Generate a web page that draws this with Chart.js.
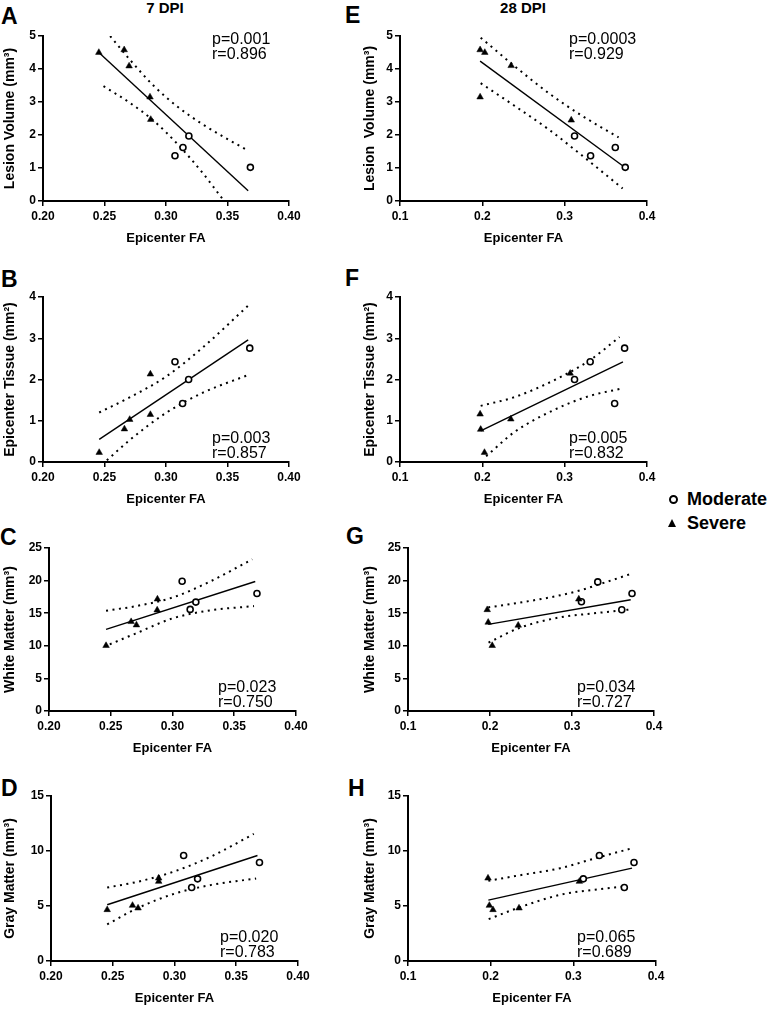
<!DOCTYPE html>
<html lang="en">
<head>
<meta charset="UTF-8">
<title>Epicenter FA correlations</title>
<script src="https://cdn.jsdelivr.net/npm/chart.js"></script>
<style>
    body { margin: 0; background: #fff; font-family: "Liberation Sans", Arial, sans-serif; color: #000; }
    #page { position: relative; width: 771px; height: 1024px; overflow: hidden; }
    #page canvas { position: absolute; }
    .letter { position: absolute; font-size: 23px; font-weight: bold; line-height: 23px; }
    .coltitle { position: absolute; top: 0; width: 100px; text-align: center; font-size: 15px; font-weight: bold; line-height: 15px; }
    .legtext { position: absolute; left: 687px; font-size: 18px; font-weight: bold; line-height: 18px; }
    .legcircle { position: absolute; left: 669px; top: 495px; width: 5px; height: 5px; border: 2px solid #000; border-radius: 50%; }
    .legtri { position: absolute; left: 668px; top: 519px; width: 0; height: 0;
              border-left: 4.5px solid transparent; border-right: 4.5px solid transparent; border-bottom: 8px solid #000; }
</style>
</head>
<body>
<div id="page">
    <div class="coltitle" style="left:115px">7 DPI</div>
    <div class="coltitle" style="left:473px">28 DPI</div>

    <div class="letter" style="left:1px; top:5px">A</div>
    <div class="letter" style="left:1px; top:268px">B</div>
    <div class="letter" style="left:0px; top:526px">C</div>
    <div class="letter" style="left:1px; top:777px">D</div>
    <div class="letter" style="left:345px; top:4px">E</div>
    <div class="letter" style="left:345px; top:267px">F</div>
    <div class="letter" style="left:346px; top:525px">G</div>
    <div class="letter" style="left:348px; top:777px">H</div>

    <div class="legcircle"></div>
    <div class="legtext" style="top:490px">Moderate</div>
    <div class="legtri"></div>
    <div class="legtext" style="top:514px">Severe</div>
</div>

<script>
    // ---- data: [FA, value] ----
    // 7 DPI column
    const aSevere   = [[0.2454, 4.50], [0.2660, 4.58], [0.2700, 4.09], [0.2870, 3.15], [0.2876, 2.47]];
    const aModerate = [[0.3073, 1.37], [0.3138, 1.62], [0.3186, 1.97], [0.3686, 1.02]];
    const aFit      = [[0.2454, 4.50], [0.3668, 0.31]];
    const aUpper    = [[0.2546, 5.00], [0.27, 4.31], [0.29, 3.49], [0.31, 2.84], [0.33, 2.32], [0.3654, 1.55]];
    const aLower    = [[0.2492, 3.48], [0.27, 2.99], [0.29, 2.43], [0.31, 1.70], [0.33, 0.84], [0.346, 0.06]];

    const bSevere   = [[0.2457, 0.23], [0.2662, 0.80], [0.2705, 1.03], [0.2873, 2.13], [0.2873, 1.15]];
    const bModerate = [[0.3073, 2.43], [0.3135, 1.42], [0.3184, 2.00], [0.3681, 2.76]];
    const bFit      = [[0.2457, 0.55], [0.3668, 2.96]];
    const bUpper    = [[0.2457, 1.20], [0.27, 1.56], [0.30, 2.07], [0.33, 2.78], [0.3668, 3.79]];
    const bLower    = [[0.2519, 0.04], [0.27, 0.52], [0.30, 1.19], [0.33, 1.68], [0.3668, 2.11]];

    const cSevere   = [[0.2462, 10.03], [0.2665, 13.70], [0.2708, 13.19], [0.2878, 17.16], [0.2876, 15.48]];
    const cModerate = [[0.3078, 19.90], [0.3143, 15.58], [0.3189, 16.70], [0.3684, 18.02]];
    const cFit      = [[0.2462, 12.53], [0.3670, 19.86]];
    const cUpper    = [[0.2462, 15.38], [0.27, 16.07], [0.30, 17.40], [0.33, 19.82], [0.3646, 23.27]];
    const cLower    = [[0.2492, 10.23], [0.27, 11.87], [0.30, 14.20], [0.33, 15.42], [0.366, 16.09]];

    const dSevere   = [[0.2455, 4.66], [0.2660, 5.05], [0.2705, 4.81], [0.2872, 7.53], [0.2872, 7.23]];
    const dModerate = [[0.3074, 9.59], [0.3139, 6.68], [0.3187, 7.47], [0.3688, 8.95]];
    const dFit      = [[0.2455, 5.11], [0.3672, 9.59]];
    const dUpper    = [[0.2455, 6.68], [0.27, 7.20], [0.30, 8.15], [0.33, 9.52], [0.3642, 11.55]];
    const dLower    = [[0.2455, 3.33], [0.27, 4.80], [0.30, 6.12], [0.33, 6.92], [0.3661, 7.50]];

    // 28 DPI column
    const eSevere   = [[0.1973, 4.58], [0.1973, 3.15], [0.2030, 4.50], [0.2350, 4.10], [0.3080, 2.45]];
    const eModerate = [[0.3120, 1.97], [0.3315, 1.37], [0.3615, 1.62], [0.3736, 1.02]];
    const eFit      = [[0.1973, 4.24], [0.3704, 1.07]];
    const eUpper    = [[0.198, 4.95], [0.24, 4.07], [0.28, 3.28], [0.32, 2.60], [0.3655, 1.93]];
    const eLower    = [[0.198, 3.57], [0.24, 2.87], [0.28, 2.18], [0.32, 1.40], [0.3704, 0.38]];

    const fSevere   = [[0.1973, 1.16], [0.1980, 0.79], [0.2026, 0.23], [0.2346, 1.04], [0.3067, 2.15]];
    const fModerate = [[0.3120, 2.00], [0.3310, 2.43], [0.3607, 1.42], [0.3728, 2.76]];
    const fFit      = [[0.1980, 0.755], [0.3708, 2.43]];
    const fUpper    = [[0.198, 1.36], [0.24, 1.58], [0.29, 2.01], [0.33, 2.46], [0.3667, 3.03]];
    const fLower    = [[0.2046, 0.14], [0.24, 0.74], [0.29, 1.29], [0.33, 1.60], [0.3667, 1.77]];

    const gSevere   = [[0.1966, 15.53], [0.1978, 13.60], [0.2027, 10.03], [0.2344, 13.14], [0.3083, 17.16]];
    const gModerate = [[0.3115, 16.75], [0.3314, 19.80], [0.3607, 15.53], [0.3732, 18.02]];
    const gFit      = [[0.1978, 13.29], [0.3716, 17.06]];
    const gUpper    = [[0.1978, 15.89], [0.235, 16.6], [0.28, 17.6], [0.31, 18.5], [0.33, 19.3], [0.3708, 20.98]];
    const gLower    = [[0.1982, 10.49], [0.235, 12.7], [0.285, 14.36], [0.326, 14.97], [0.3716, 15.58]];

    const hSevere   = [[0.1968, 7.53], [0.1984, 5.05], [0.2028, 4.66], [0.2343, 4.81], [0.3073, 7.23]];
    const hModerate = [[0.3121, 7.47], [0.3315, 9.59], [0.3617, 6.68], [0.3734, 8.95]];
    const hFit      = [[0.1972, 5.53], [0.3710, 8.44]];
    const hUpper    = [[0.1972, 7.29], [0.2359, 7.80], [0.2843, 8.44], [0.3246, 9.30], [0.371, 10.25]];
    const hLower    = [[0.1976, 3.81], [0.234, 4.85], [0.2843, 6.02], [0.3246, 6.47], [0.3609, 6.77]];

    // axis ranges and labels
    const xRange7  = [0.20, 0.40, 0.05, 2];
    const xRange28 = [0.1, 0.4, 0.1, 1];
    const yLesion = [0, 5, 1];
    const yTissue = [0, 4, 1];
    const yWhite  = [0, 25, 5];
    const yGray   = [0, 15, 5];
    const xTitle = 'Epicenter FA';
    const yTitles = ['Lesion Volume (mm³)', 'Epicenter Tissue (mm²)', 'White Matter (mm³)', 'Gray Matter (mm³)'];
    const yTitleE = 'Lesion  Volume (mm³)';
    const stats = {
        A: ['p=0.001', 'r=0.896'], B: ['p=0.003', 'r=0.857'], C: ['p=0.023', 'r=0.750'], D: ['p=0.020', 'r=0.783'],
        E: ['p=0.0003', 'r=0.929'], F: ['p=0.005', 'r=0.832'], G: ['p=0.034', 'r=0.727'], H: ['p=0.065', 'r=0.689']
    };

    Chart.defaults.font.family = '"Liberation Sans", Arial, sans-serif';
    Chart.defaults.color = '#000';

    const toPts = arr => arr.map(p => ({ x: p[0], y: p[1] }));

    // p / r text inside the plot
    const statPlugin = {
        id: 'stats',
        afterDraw(chart, args, opts) {
            const { ctx, chartArea } = chart;
            ctx.save();
            ctx.font = '16px "Liberation Sans", Arial, sans-serif';
            ctx.fillStyle = '#000';
            ctx.textBaseline = 'middle';
            const x = chartArea.left + 169;
            const y0 = opts.top ? chartArea.top + 4 : chartArea.bottom - 23;
            opts.lines.forEach((t, i) => ctx.fillText(t, x, y0 + i * 14.5));
            ctx.restore();
        }
    };

    const page = document.getElementById('page');

    function makePanel(p) {
        const top = p.area.t - 16;
        const cv = document.createElement('canvas');
        cv.width = p.area.r + 30 - p.colX;
        cv.height = p.area.b + 48 - top;
        cv.style.left = p.colX + 'px';
        cv.style.top = top + 'px';
        page.appendChild(cv);

        const lineSet = (data, dotted) => ({
            data: toPts(data), showLine: true, pointRadius: 0, fill: false,
            borderColor: '#000', borderWidth: dotted ? 2 : 1.4,
            borderDash: dotted ? [2, 4.5] : [], cubicInterpolationMode: dotted ? 'monotone' : 'default',
            order: 2
        });

        new Chart(cv, {
            type: 'scatter',
            data: {
                datasets: [
                    { data: toPts(p.severe), pointStyle: 'triangle', pointRadius: 3.8, backgroundColor: '#000', borderColor: '#000', borderWidth: 0.5, order: 1 },
                    { data: toPts(p.moderate), pointStyle: 'circle', pointRadius: 3, backgroundColor: '#fff', borderColor: '#000', borderWidth: 1.6, order: 1 },
                    lineSet(p.fit, false),
                    lineSet(p.upper, true),
                    lineSet(p.lower, true)
                ]
            },
            options: {
                responsive: false,
                animation: false,
                layout: { padding: { top: 16, right: 30, left: 0, bottom: 0 } },
                plugins: {
                    legend: { display: false },
                    tooltip: { enabled: false },
                    stats: { lines: p.stats, top: p.statsTop }
                },
                scales: {
                    x: {
                        type: 'linear', min: p.x[0], max: p.x[1],
                        ticks: { stepSize: p.x[2], callback: v => v.toFixed(p.x[3]), font: { size: 12, weight: 'bold' }, color: '#000', padding: 3, maxRotation: 0, autoSkip: false },
                        grid: { drawOnChartArea: false, drawTicks: true, tickLength: 5, color: '#000', lineWidth: 1.5 },
                        border: { color: '#000', width: 2 },
                        title: { display: true, text: xTitle, font: { size: 13, weight: 'bold' }, color: '#000', padding: { top: 0, bottom: 3 } },
                        afterFit: s => { s.height = 48; }
                    },
                    y: {
                        type: 'linear', min: p.y[0], max: p.y[1],
                        ticks: { stepSize: p.y[2], font: { size: 12, weight: 'bold' }, color: '#000', padding: 2 },
                        grid: { drawOnChartArea: false, drawTicks: true, tickLength: 5, color: '#000', lineWidth: 1.5 },
                        border: { color: '#000', width: 2 },
                        title: { display: true, text: p.yTitle, font: { size: 14, weight: 'bold' }, color: '#000', padding: { top: 2, bottom: 0 } },
                        afterFit: s => { s.width = p.area.l - p.colX; }
                    }
                }
            },
            plugins: [statPlugin]
        });
    }

    makePanel({ colX: 0, area: { l: 43, r: 289, t: 36, b: 201 }, x: xRange7, y: yLesion, yTitle: yTitles[0],
        severe: aSevere, moderate: aModerate, fit: aFit, upper: aUpper, lower: aLower, stats: stats.A, statsTop: true });
    makePanel({ colX: 0, area: { l: 43, r: 289, t: 297, b: 462 }, x: xRange7, y: yTissue, yTitle: yTitles[1],
        severe: bSevere, moderate: bModerate, fit: bFit, upper: bUpper, lower: bLower, stats: stats.B, statsTop: false });
    makePanel({ colX: 0, area: { l: 49, r: 296, t: 548, b: 711 }, x: xRange7, y: yWhite, yTitle: yTitles[2],
        severe: cSevere, moderate: cModerate, fit: cFit, upper: cUpper, lower: cLower, stats: stats.C, statsTop: false });
    makePanel({ colX: 0, area: { l: 51, r: 298, t: 796, b: 961 }, x: xRange7, y: yGray, yTitle: yTitles[3],
        severe: dSevere, moderate: dModerate, fit: dFit, upper: dUpper, lower: dLower, stats: stats.D, statsTop: false });

    makePanel({ colX: 360, area: { l: 400, r: 647, t: 36, b: 201 }, x: xRange28, y: yLesion, yTitle: yTitleE,
        severe: eSevere, moderate: eModerate, fit: eFit, upper: eUpper, lower: eLower, stats: stats.E, statsTop: true });
    makePanel({ colX: 360, area: { l: 400, r: 647, t: 297, b: 462 }, x: xRange28, y: yTissue, yTitle: yTitles[1],
        severe: fSevere, moderate: fModerate, fit: fFit, upper: fUpper, lower: fLower, stats: stats.F, statsTop: false });
    makePanel({ colX: 360, area: { l: 408, r: 654, t: 548, b: 711 }, x: xRange28, y: yWhite, yTitle: yTitles[2],
        severe: gSevere, moderate: gModerate, fit: gFit, upper: gUpper, lower: gLower, stats: stats.G, statsTop: false });
    makePanel({ colX: 360, area: { l: 408, r: 656, t: 796, b: 961 }, x: xRange28, y: yGray, yTitle: yTitles[3],
        severe: hSevere, moderate: hModerate, fit: hFit, upper: hUpper, lower: hLower, stats: stats.H, statsTop: false });
</script>
</body>
</html>
